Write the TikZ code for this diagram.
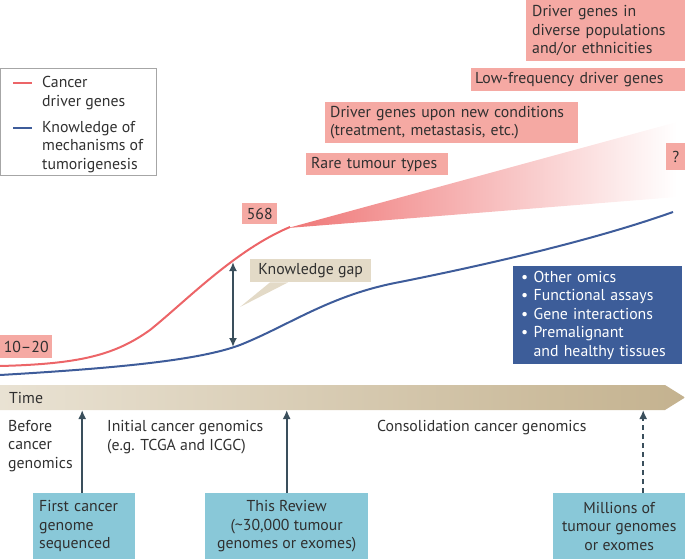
\documentclass[tikz,border=0pt]{standalone}
\usepackage{fontspec}
\setmainfont{PT Sans}
\usetikzlibrary{arrows.meta}
\definecolor{pinkfill}{HTML}{F5A9A3}
\definecolor{redcurve}{HTML}{EC6568}
\definecolor{wedgered}{HTML}{EF7676}
\definecolor{bluecurve}{HTML}{3E5C9A}
\definecolor{bluefill}{HTML}{3D5D99}
\definecolor{slate}{HTML}{3A4F5C}
\definecolor{tealfill}{HTML}{89C8D8}
\definecolor{gapfill}{HTML}{E3DAC7}
\definecolor{timeleft}{HTML}{E9E2D3}
\definecolor{timeright}{HTML}{C4B28F}
\definecolor{ink}{HTML}{303030}
\tikzset{
  pinkbox/.style={fill=pinkfill, anchor=north west, inner xsep=6pt, inner ysep=0pt, align=left, text=ink},
  tealbox/.style={fill=tealfill, anchor=north west, inner xsep=6pt, inner ysep=0pt, text=ink},
  label/.style={anchor=west, inner sep=0pt, align=left, text=ink},
  uparrow/.style={->, slate, line width=2pt},
}
\begin{document}
\begin{tikzpicture}[x=1pt, y=-1pt, >={Latex[length=9pt,width=8pt]}, font=\fontsize{15.8}{18.6}\selectfont]
    \useasboundingbox (0,0) rectangle (685,559);
    % legend
    \node (legend) [draw=gray!70, anchor=north west, minimum width=156, minimum height=107, inner sep=0pt] at (0,68) {};
    \draw[redcurve, line width=2pt] (13,83) -- (32,83);
    \node[label] at (42,93) {Cancer\\driver genes};
    \draw[bluecurve, line width=2pt] (13,128) -- (32,128);
    \node[label] at (42,147) {Knowledge of\\mechanisms of\\tumorigenesis};
    % wedge and curves
    \shade[left color=wedgered, right color=white] (288,228) -- (677,122) -- (677,197) -- cycle;
    \draw[redcurve, line width=2pt] (0,366) .. controls (80,364) and (115,355) .. (150,330) .. controls (185,302) and (235,250) .. (290,227);
    \draw[bluecurve, line width=2pt] (0,375) .. controls (120,368) and (200,360) .. (240,345) .. controls (290,325) and (330,295) .. (400,282) .. controls (500,262) and (600,238) .. (673,212);
    % pink labels
    \node (diverse) [pinkbox, text width=147, minimum height=61] at (526,0) {Driver genes in\\diverse populations\\and/or ethnicities};
    \node (lowfreq) [pinkbox, inner xsep=4pt, text width=206, minimum height=23] at (471,68) {Low-frequency driver genes};
    \node (newcond) [pinkbox, inner xsep=5pt, text width=243, minimum height=41] at (325,102) {Driver genes upon new conditions\\(treatment, metastasis, etc.)};
    \node (rare) [pinkbox, inner xsep=5pt, text width=132, minimum height=22] at (306,153) {Rare tumour types};
    \node (unknown) [pinkbox, align=center, inner xsep=0pt, minimum width=19, minimum height=27] at (666,143) {?};
    \node (top) [pinkbox, align=center, inner xsep=0pt, minimum width=35, minimum height=21] at (242,203) {568};
    \node (start) [pinkbox, align=center, inner xsep=0pt, minimum width=52, minimum height=23] at (0,335) {10--20};
    % knowledge gap
    \coordinate (gaptop) at (233,262);
    \coordinate (gapbottom) at (233,347);
    \coordinate (gaptip) at (240,307);
    \node (gap) [fill=gapfill, anchor=north west, inner sep=0pt, minimum width=121, minimum height=23, text=ink] at (250,259) {Knowledge gap};
    \fill[gapfill] ([xshift=20pt]gap.south west) -- ([xshift=38pt]gap.south west) -- (gaptip) -- cycle;
    \draw[<->, slate, line width=2pt] (gaptop) -- (gapbottom);
    % blue box
    \node (omics) [fill=bluefill, anchor=north west, inner xsep=8pt, inner ysep=0pt, text width=153, minimum height=98, align=left, text=white] at (513,266)
        {\textbullet\ Other omics\\\textbullet\ Functional assays\\\textbullet\ Gene interactions\\\textbullet\ Premalignant\\\phantom{\textbullet\ }and healthy tissues};
    % time axis
    \shade[left color=timeleft, right color=timeright] (0,385) -- (665,385) -- (685,397.5) -- (665,410) -- (0,410) -- cycle;
    \coordinate (axis) at (0,410);
    \node[label] at (9,398) {Time};
    \node[label] at (8,446) {Before\\cancer\\genomics};
    \node[label] at (107,437) {Initial cancer genomics\\(e.g. TCGA and ICGC)};
    \node[label] at (377,428) {Consolidation cancer genomics};
    % milestones
    \node (first) [tealbox, align=left, text width=90, minimum height=66] at (33,493) {First cancer\\genome\\sequenced};
    \node (review) [tealbox, align=center, minimum width=163, minimum height=66] at (205,493) {This Review\\(\textasciitilde30,000 tumour\\genomes or exomes)};
    \node (millions) [tealbox, align=center, minimum width=132, minimum height=66] at (553,493) {Millions of\\tumour genomes\\or exomes};
    \draw[uparrow] ([xshift=-2pt]first.north) -- ([xshift=-2pt]first.north |- axis);
    \draw[uparrow] (review.north) -- (review.north |- axis);
    \draw[uparrow, dashed, dash pattern=on 5pt off 4pt] ([xshift=24pt]millions.north) -- ([xshift=24pt]millions.north |- axis);
\end{tikzpicture}
\end{document}
